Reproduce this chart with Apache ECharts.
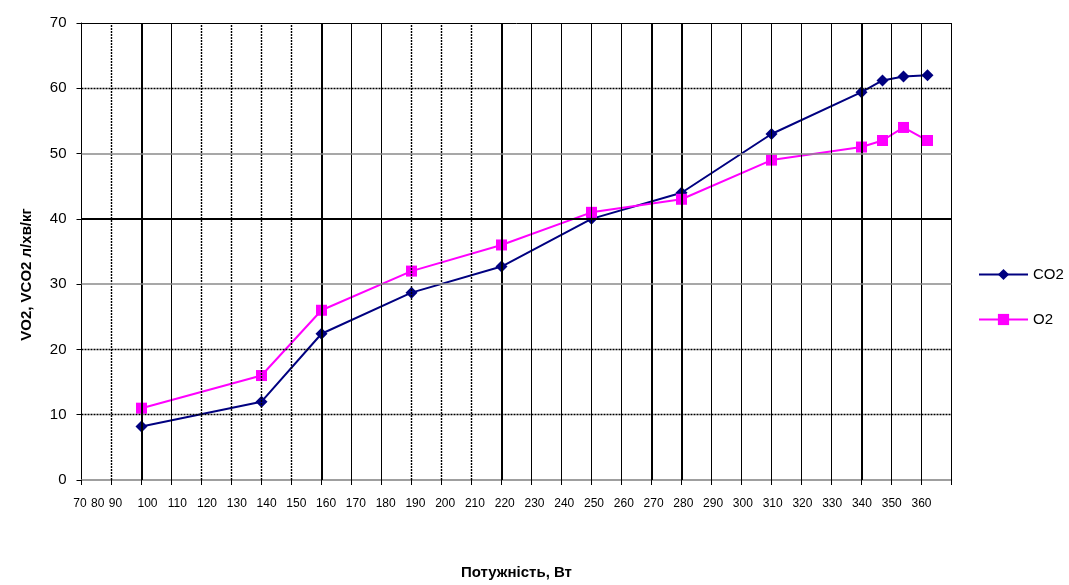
<!DOCTYPE html>
<html>
<head>
<meta charset="utf-8">
<script src="https://cdn.jsdelivr.net/npm/echarts@6/dist/echarts.min.js"></script>
<style>
  html, body { margin: 0; padding: 0; background: #fff; }
  #chart { width: 1069px; height: 585px; }
</style>
</head>
<body>
<div id="chart"></div>
<script>
// Power steps (W) and gas exchange readings
const powerW = [100, 140, 160, 190, 220, 250, 280, 310, 340, 347, 354, 362];
const co2 = [8.2, 12, 22.4, 28.7, 32.7, 40, 44, 53, 59.4, 61.2, 61.8, 62];
const o2 = [11, 16, 26, 32, 36, 41, 43, 49, 51, 52, 54, 52];

// Tick labels printed under the power axis
const xTickLabels = ['70', '80', '90', '100', '110', '120', '130', '140', '150', '160',
  '170', '180', '190', '200', '210', '220', '230', '240', '250', '260',
  '270', '280', '290', '300', '310', '320', '330', '340', '350', '360'];
const yTicks = [0, 10, 20, 30, 40, 50, 60, 70];

// Which vertical grid lines are dotted or heavy
const dottedX = [90, 120, 130, 140, 150, 190, 200, 210];
const boldX = [100, 160, 220, 270, 280, 340];

const FONT = 'Arial, "Liberation Sans", sans-serif';
const X_MIN = 80, X_MAX = 370;

const styles = {
  dotted: { color: '#000', width: 1.4, type: [2, 1] },
  bold: { color: '#000', width: 2, type: 'solid' },
  thin: { color: '#000', width: 1, type: 'solid' },
  grey: { color: '#8a8a8a', width: 1.5, type: 'solid' }
};

// vertical grid lines
const gridLines = [];
for (let v = X_MIN + 10; v <= X_MAX; v += 10) {
  let st = styles.thin;
  if (dottedX.includes(v)) st = styles.dotted;
  else if (boldX.includes(v)) st = styles.bold;
  gridLines.push({ xAxis: v, lineStyle: st });
}
// horizontal grid lines
const hStyle = { 10: styles.dotted, 20: styles.dotted, 30: styles.grey, 40: styles.bold,
  50: styles.grey, 60: styles.dotted, 70: styles.thin };
yTicks.filter(v => v > 0).forEach(v => gridLines.push({ yAxis: v, lineStyle: hStyle[v] }));

// the label row: three-digit labels on an even pitch, two-digit ones packed tighter
function labelSpot(v) {
  if (v >= 100) return 102 + (v - 100) * 0.9923;
  return 91.3 - (90 - v) * 0.59;
}
const labelPos = xTickLabels.map(t => labelSpot(Number(t)));
function labelFor(val) {
  let best = 0, d = Infinity;
  labelPos.forEach((p, i) => { const dd = Math.abs(p - val); if (dd < d) { d = dd; best = i; } });
  return xTickLabels[best];
}

const chart = echarts.init(document.getElementById('chart'), null, { renderer: 'canvas' });

chart.setOption({
  animation: false,
  backgroundColor: '#fff',
  textStyle: { fontFamily: FONT },
  grid: [
    { left: 81.5, right: 117.5, top: 23, bottom: 102 },
    { left: 60.5, right: 117.5, top: 23, bottom: 102 }
  ],
  legend: {
    data: ['CO2', 'O2'],
    orient: 'vertical',
    left: 973,
    top: 262,
    itemWidth: 49,
    itemHeight: 14,
    itemGap: 30,
    textStyle: { fontSize: 15, color: '#000', fontFamily: FONT }
  },
  xAxis: [
    {
      type: 'value', gridIndex: 0, min: X_MIN, max: X_MAX, interval: 10,
      axisLine: { show: true, lineStyle: { color: '#808080', width: 1.5 } },
      axisTick: { show: true, length: 5, lineStyle: { color: '#000', width: 1 } },
      axisLabel: { show: false },
      splitLine: { show: false },
      name: 'Потужність, Вт',
      nameLocation: 'middle',
      nameGap: 85,
      nameTextStyle: { fontSize: 15, fontWeight: 'bold', color: '#000', fontFamily: FONT }
    },
    {
      type: 'value', gridIndex: 1, min: 73, max: X_MAX,
      axisLine: { show: false },
      axisTick: { show: false },
      splitLine: { show: false },
      axisLabel: {
        show: true,
        customValues: labelPos,
        formatter: val => labelFor(val),
        margin: 15,
        fontSize: 12,
        color: '#000',
        fontFamily: FONT
      }
    }
  ],
  yAxis: [
    {
      type: 'value', gridIndex: 0, min: 0, max: 70, interval: 10,
      axisLine: { show: true, lineStyle: { color: '#000', width: 1 } },
      axisTick: { show: true, length: 5, lineStyle: { color: '#000', width: 1 } },
      axisLabel: { fontSize: 15, color: '#000', margin: 15, fontFamily: FONT },
      splitLine: { show: false },
      name: 'VO2, VCO2 л/хв/кг',
      nameLocation: 'middle',
      nameGap: 47,
      nameTextStyle: { fontSize: 15, fontWeight: 'bold', color: '#000', fontFamily: FONT,
        padding: [0, 46, 0, 0] }
    },
    { type: 'value', gridIndex: 1, min: 0, max: 70, show: false }
  ],
  series: [
    {
      name: 'grid',
      type: 'line',
      xAxisIndex: 0, yAxisIndex: 0,
      data: [],
      silent: true,
      z: 1,
      markLine: {
        silent: true,
        symbol: 'none',
        animation: false,
        label: { show: false },
        emphasis: { disabled: true },
        data: gridLines
      }
    },
    {
      name: 'CO2',
      type: 'line',
      xAxisIndex: 0, yAxisIndex: 0,
      z: 3,
      data: powerW.map((x, i) => [x, co2[i]]),
      symbol: 'diamond',
      symbolSize: 12,
      lineStyle: { color: '#000080', width: 2 },
      itemStyle: { color: '#000080' }
    },
    {
      name: 'O2',
      type: 'line',
      xAxisIndex: 0, yAxisIndex: 0,
      z: 3,
      data: powerW.map((x, i) => [x, o2[i]]),
      symbol: 'rect',
      symbolSize: 11,
      lineStyle: { color: '#ff00ff', width: 2 },
      itemStyle: { color: '#ff00ff' }
    }
  ]
});
</script>
</body>
</html>
